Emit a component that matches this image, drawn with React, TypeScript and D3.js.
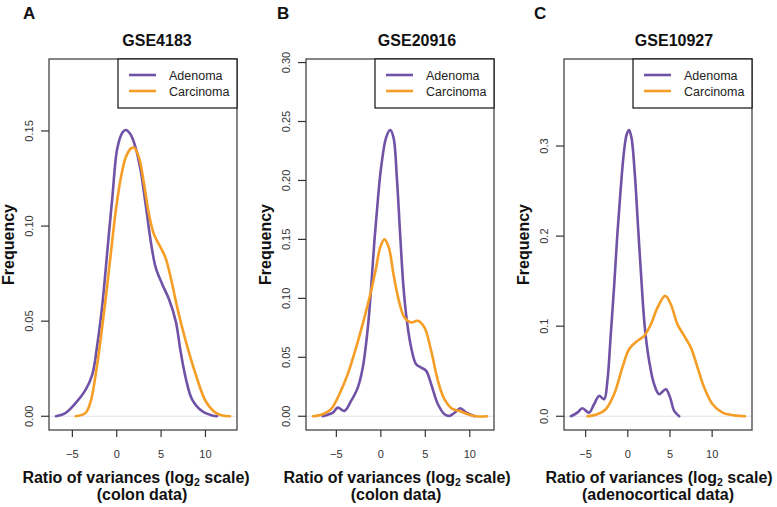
import React from 'react';
import * as d3 from 'd3';

// ---------- Data ----------
const seriesNames = ['Adenoma', 'Carcinoma'];
const panelLetters = ['A', 'B', 'C'];
const panelTitles = ['GSE4183', 'GSE20916', 'GSE10927'];
const panelSubtitles = ['(colon data)', '(colon data)', '(adenocortical data)'];
const xTickValues = [-5, 0, 5, 10];
const yTicksA = [0, 0.05, 0.1, 0.15];
const yTicksB = [0, 0.05, 0.1, 0.15, 0.2, 0.25, 0.3];
const yTicksC = [0, 0.1, 0.2, 0.3];

const gse4183AdenomaX = [-6.85, -5.75, -4.62, -3.5, -2.75, -2.19, -1.62, -1.06, -0.5, 0.07, 0.63, 1.01, 1.58, 2.14, 2.7, 3.27, 3.83, 4.4, 5.14, 5.9, 6.65, 7.2, 7.78, 8.5, 9.65, 10.78, 11.3];
const gse4183AdenomaY = [0, 0.0018, 0.007, 0.014, 0.022, 0.0377, 0.0588, 0.0868, 0.1149, 0.141, 0.149, 0.1505, 0.148, 0.141, 0.129, 0.111, 0.092, 0.078, 0.0693, 0.0614, 0.05, 0.034, 0.02, 0.0088, 0.0026, 0.0004, 0];
const gse4183CarcinomaX = [-4.62, -3.5, -2.93, -2.37, -1.8, -1.24, -0.68, -0.11, 0.45, 1.01, 1.58, 1.95, 2.51, 3.08, 3.64, 4.2, 4.96, 5.52, 6.09, 6.83, 7.78, 8.9, 10.03, 11.16, 11.9, 12.77];
const gse4183CarcinomaY = [0, 0.0018, 0.0079, 0.022, 0.041, 0.062, 0.085, 0.108, 0.125, 0.136, 0.1407, 0.1412, 0.136, 0.122, 0.106, 0.0956, 0.0886, 0.083, 0.0728, 0.057, 0.0395, 0.022, 0.0079, 0.0018, 0.0004, 0];

const gse20916AdenomaX = [-6.53, -5.4, -4.84, -4.1, -3.34, -2.59, -2.03, -1.46, -1.09, -0.72, -0.34, 0.03, 0.6, 1.05, 1.42, 1.8, 2.17, 2.55, 2.93, 3.41, 3.97, 4.54, 5.1, 5.66, 6.42, 7.16, 7.73, 8.29, 8.93, 9.61, 10.54];
const gse20916AdenomaY = [0, 0.003, 0.0073, 0.0045, 0.013, 0.0243, 0.0413, 0.0752, 0.109, 0.149, 0.183, 0.211, 0.2366, 0.2428, 0.2366, 0.2026, 0.1545, 0.109, 0.081, 0.0583, 0.0441, 0.0413, 0.0385, 0.0272, 0.0102, 0.0017, 0.0003, 0.003, 0.0068, 0.003, 0];
const gse20916CarcinomaX = [-7.63, -6.53, -5.6, -4.66, -3.72, -2.78, -1.85, -1.09, -0.53, -0.08, 0.41, 0.9, 1.42, 2.03, 2.66, 3.41, 4.17, 4.91, 5.66, 6.42, 7.16, 8.1, 8.85, 9.61, 10.73, 11.94];
const gse20916CarcinomaY = [0, 0.0017, 0.006, 0.0187, 0.0357, 0.0583, 0.0837, 0.1064, 0.126, 0.143, 0.15, 0.143, 0.1206, 0.0979, 0.0837, 0.0795, 0.081, 0.0752, 0.0554, 0.03, 0.0144, 0.006, 0.0045, 0.0022, 0, 0];

const gse10927AdenomaX = [-6.74, -5.99, -5.39, -4.6, -4.0, -3.41, -2.81, -2.42, -2.02, -1.63, -1.24, -0.83, -0.44, -0.12, 0.15, 0.43, 0.83, 1.22, 1.62, 2.02, 2.53, 3.12, 3.72, 4.51, 5.02, 5.5, 6.09];
const gse10927AdenomaY = [0, 0.004, 0.0089, 0.004, 0.0133, 0.0226, 0.0189, 0.0392, 0.091, 0.143, 0.202, 0.254, 0.2948, 0.3133, 0.3178, 0.3096, 0.269, 0.2096, 0.15, 0.0985, 0.0614, 0.0356, 0.0244, 0.03, 0.0207, 0.0059, 0];
const gse10927CarcinomaX = [-4.8, -3.61, -2.61, -1.63, -0.64, 0.15, 1.14, 1.94, 2.73, 3.52, 4.43, 5.1, 5.89, 6.69, 7.48, 8.27, 9.06, 10.05, 11.24, 12.62, 13.9];
const gse10927CarcinomaY = [0, 0.0022, 0.0078, 0.0244, 0.054, 0.0744, 0.0837, 0.0892, 0.102, 0.1207, 0.1337, 0.1244, 0.102, 0.0892, 0.0762, 0.054, 0.0318, 0.0133, 0.004, 0.001, 0];

// ---------- Layout / style ----------
const W = 777;
const H = 507;
const PLOT_TOP = 59;
const PLOT_BOTTOM = 430;
const boxes = [
  { left: 49, right: 237, titleX: 157, letterX: 23, sub1X: 136, sub2X: 142, yFmt: '.2f', yTicks: yTicksA },
  { left: 306, right: 494, titleX: 417, letterX: 277, sub1X: 397, sub2X: 396, yFmt: '.2f', yTicks: yTicksB },
  { left: 564, right: 752, titleX: 674, letterX: 534, sub1X: 659, sub2X: 658, yFmt: '.1f', yTicks: yTicksC },
];
const COLORS = ['#7052a6', '#f59d24'];
const FONT = 'Liberation Sans, Arial, Helvetica, sans-serif';

const panelSeries = [
  [
    { xs: gse4183AdenomaX, ys: gse4183AdenomaY },
    { xs: gse4183CarcinomaX, ys: gse4183CarcinomaY },
  ],
  [
    { xs: gse20916AdenomaX, ys: gse20916AdenomaY },
    { xs: gse20916CarcinomaX, ys: gse20916CarcinomaY },
  ],
  [
    { xs: gse10927AdenomaX, ys: gse10927AdenomaY },
    { xs: gse10927CarcinomaX, ys: gse10927CarcinomaY },
  ],
];

function Panel({ idx }: { idx: number }) {
  const b = boxes[idx];
  const series = panelSeries[idx];
  const allX = series.flatMap((s) => s.xs);
  const allY = series.flatMap((s) => s.ys);
  const xmin = d3.min(allX)!;
  const xmax = d3.max(allX)!;
  const xpad = (xmax - xmin) * 0.04;
  const ylimTop = d3.max(allY)! * 1.2;
  const ypad = ylimTop * 0.04;
  const x = d3.scaleLinear().domain([xmin - xpad, xmax + xpad]).range([b.left, b.right]);
  const y = d3.scaleLinear().domain([-ypad, ylimTop + ypad]).range([PLOT_BOTTOM, PLOT_TOP]);
  const line = d3
    .line<[number, number]>()
    .x((d) => x(d[0]))
    .y((d) => y(d[1]))
    .curve(d3.curveCatmullRom.alpha(0.5));
  const fmt = d3.format(b.yFmt);
  const tickLen = 7;
  const legendW = 119;
  const legendH = 49;
  const legendLeft = b.right - legendW;
  const midY = (PLOT_TOP + PLOT_BOTTOM) / 2;
  const axisColor = '#333';

  return (
    <g>
      {/* panel letter */}
      <text x={b.letterX} y={19} fontFamily={FONT} fontWeight="bold" fontSize={17} fill="#111">
        {panelLetters[idx]}
      </text>
      {/* title */}
      <text x={b.titleX} y={46} textAnchor="middle" fontFamily={FONT} fontWeight="bold" fontSize={16} fill="#111">
        {panelTitles[idx]}
      </text>
      {/* zero line */}
      <line x1={b.left} x2={b.right} y1={y(0)} y2={y(0)} stroke="#e2e0ec" strokeWidth={1} />
      {/* curves */}
      {series.map((s, i) => (
        <path
          key={i}
          d={line(s.xs.map((v, j) => [v, s.ys[j]] as [number, number])) || ''}
          fill="none"
          stroke={COLORS[i]}
          strokeWidth={2.6}
          strokeLinejoin="round"
          strokeLinecap="round"
        />
      ))}
      {/* box */}
      <rect
        x={b.left}
        y={PLOT_TOP}
        width={b.right - b.left}
        height={PLOT_BOTTOM - PLOT_TOP}
        fill="none"
        stroke="#444"
        strokeWidth={1.3}
      />
      {/* y axis ticks */}
      {b.yTicks.map((t) => (
        <g key={'y' + t}>
          <line x1={b.left - tickLen - 1} x2={b.left} y1={y(t)} y2={y(t)} stroke={axisColor} strokeWidth={1.2} />
          <text
            transform={`translate(${b.left - 16.5},${y(t)}) rotate(-90)`}
            textAnchor="middle"
            fontFamily={FONT}
            fontSize={11}
            fill="#333"
          >
            {fmt(t)}
          </text>
        </g>
      ))}
      {/* x axis ticks */}
      {xTickValues.map((t) => (
        <g key={'x' + t}>
          <line x1={x(t)} x2={x(t)} y1={PLOT_BOTTOM} y2={PLOT_BOTTOM + tickLen} stroke={axisColor} strokeWidth={1.2} />
          <text x={x(t)} y={458} textAnchor="middle" fontFamily={FONT} fontSize={11} fill="#333">
            {t < 0 ? '\u2212' + Math.abs(t) : String(t)}
          </text>
        </g>
      ))}
      {/* y label */}
      <text
        transform={`translate(${b.left - 35.5},${midY}) rotate(-90)`}
        textAnchor="middle"
        fontFamily={FONT}
        fontWeight="bold"
        fontSize={16}
        fill="#111"
      >
        Frequency
      </text>
      {/* x label */}
      <text x={b.sub1X} y={483} textAnchor="middle" fontFamily={FONT} fontWeight="bold" fontSize={16} fill="#111">
        Ratio of variances (log
        <tspan fontSize={10.5} dy={3}>2</tspan>
        <tspan dy={-3}> scale)</tspan>
      </text>
      <text x={b.sub2X} y={500} textAnchor="middle" fontFamily={FONT} fontWeight="bold" fontSize={16} fill="#111">
        {panelSubtitles[idx]}
      </text>
      {/* legend */}
      <rect x={legendLeft} y={PLOT_TOP} width={legendW} height={legendH} fill="#fff" stroke="#111" strokeWidth={1.2} />
      {seriesNames.map((n, i) => (
        <g key={n}>
          <line
            x1={legendLeft + 11}
            x2={legendLeft + 38}
            y1={PLOT_TOP + 16 + i * 16}
            y2={PLOT_TOP + 16 + i * 16}
            stroke={COLORS[i]}
            strokeWidth={2.6}
          />
          <text
            x={legendLeft + 51}
            y={PLOT_TOP + 20.5 + i * 16}
            fontFamily={FONT}
            fontSize={12.5}
            fill="#222"
          >
            {n}
          </text>
        </g>
      ))}
    </g>
  );
}

export default function App() {
  return (
    <svg
      width={W}
      height={H}
      viewBox={`0 0 ${W} ${H}`}
      style={{ position: 'absolute', left: 0, top: 0, background: '#fff' }}
    >
      <rect x={0} y={0} width={W} height={H} fill="#fff" />
      {boxes.map((_, i) => (
        <Panel key={i} idx={i} />
      ))}
    </svg>
  );
}
